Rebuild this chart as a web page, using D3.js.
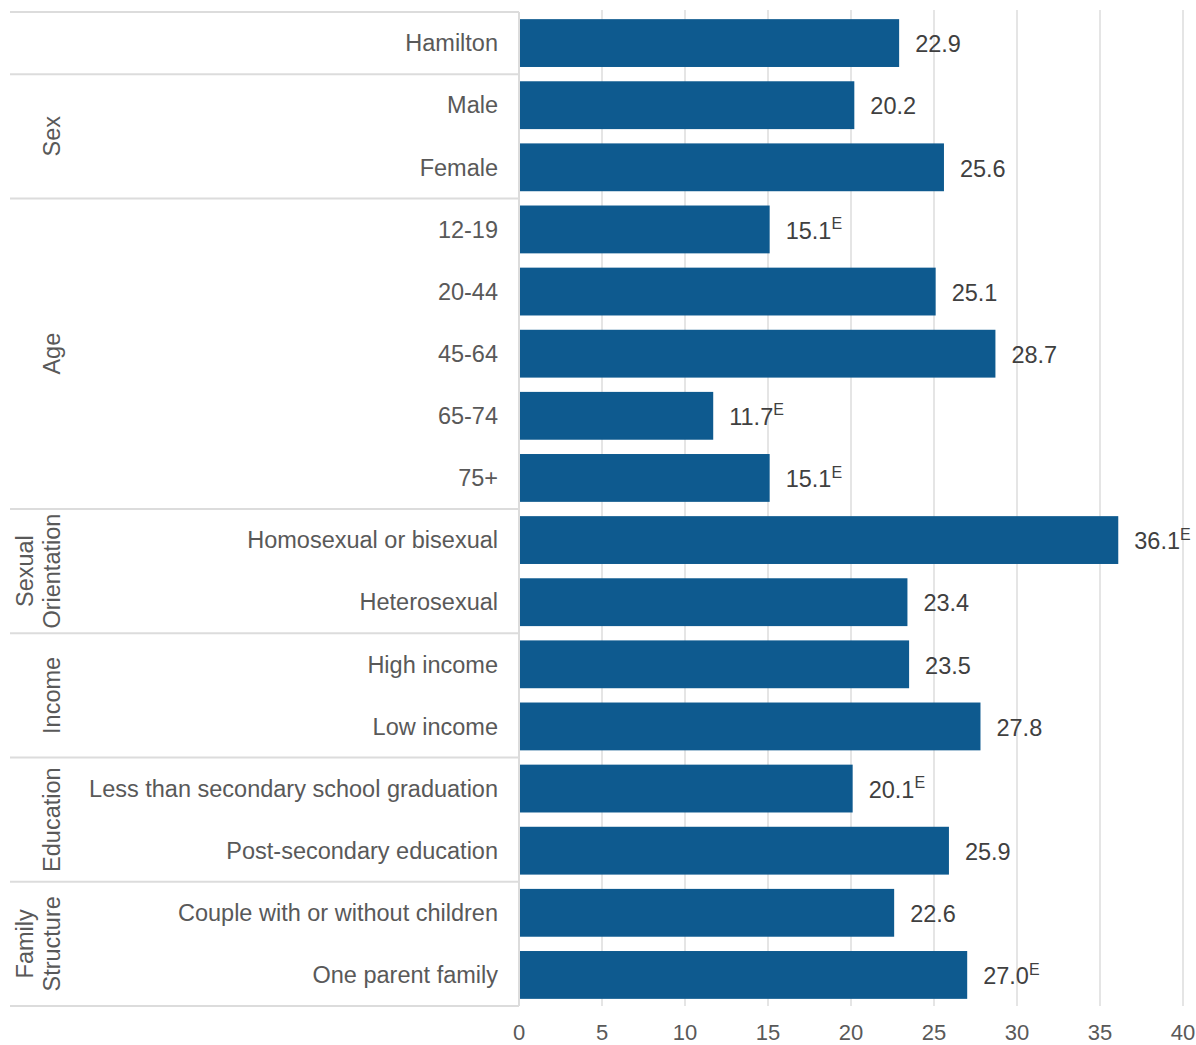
<!DOCTYPE html>
<html><head><meta charset="utf-8">
<script src="https://cdn.jsdelivr.net/npm/d3@7"></script>
<style>
body{margin:0;background:#fff;}
text{font-family:"Liberation Sans",Arial,sans-serif;}
</style></head>
<body><svg id="c" width="1196" height="1045"></svg>
<script>
const categories = ["Hamilton","Male","Female","12-19","20-44","45-64","65-74","75+","Homosexual or bisexual","Heterosexual","High income","Low income","Less than secondary school graduation","Post-secondary education","Couple with or without children","One parent family"];
const values = [22.9,20.2,25.6,15.1,25.1,28.7,11.7,15.1,36.1,23.4,23.5,27.8,20.1,25.9,22.6,27.0];
const flags = ["","","","E","","","E","E","E","","","","E","","","E"];
const groups = [
  {name:[""], start:0, end:0},
  {name:["Sex"], start:1, end:2},
  {name:["Age"], start:3, end:7},
  {name:["Sexual","Orientation"], start:8, end:9},
  {name:["Income"], start:10, end:11},
  {name:["Education"], start:12, end:13},
  {name:["Family","Structure"], start:14, end:15}
];
const ticks = [0,5,10,15,20,25,30,35,40];

const svg = d3.select("#c");
const x0 = 519, x1 = 1183, yTop = 12, yBot = 1006;
const x = d3.scaleLinear().domain([0,40]).range([x0,x1]);
const y = d3.scaleBand().domain(d3.range(categories.length)).range([yTop,yBot]).paddingInner(0.23).paddingOuter(0.115);
const step = y.step();
const FS = 23.5;

// gridlines
svg.append("g").selectAll("line").data(ticks.slice(1)).join("line")
  .attr("x1",d=>x(d)).attr("x2",d=>x(d)).attr("y1",yTop-2).attr("y2",yBot)
  .attr("stroke","#dcdcdc").attr("stroke-width",1.5);

// group separators
const bounds = [0].concat(groups.map(g=>g.end+1));
svg.append("g").selectAll("line").data(bounds).join("line")
  .attr("x1",10).attr("x2",x0).attr("y1",d=>yTop + d*step).attr("y2",d=>yTop + d*step)
  .attr("stroke","#dcdcdc").attr("stroke-width",2);
svg.append("line").attr("x1",x0).attr("x2",x0).attr("y1",yTop).attr("y2",yBot)
  .attr("stroke","#dcdcdc").attr("stroke-width",2);

// bars
svg.append("g").selectAll("rect").data(values).join("rect")
  .attr("x",x(0)+1).attr("y",(d,i)=>y(i)).attr("width",d=>x(d)-x(0)-1).attr("height",y.bandwidth())
  .attr("fill","#0e5a8f");

// category labels
svg.append("g").selectAll("text").data(categories).join("text")
  .attr("x",498).attr("y",(d,i)=>y(i)+y.bandwidth()/2).attr("dy","0.35em")
  .attr("text-anchor","end").attr("font-size",FS).attr("fill","#595959").text(d=>d);

// value labels
const vl = svg.append("g").selectAll("text").data(values).join("text")
  .attr("x",d=>x(d)+16).attr("y",(d,i)=>y(i)+y.bandwidth()/2+1).attr("dy","0.35em")
  .attr("font-size",FS).attr("fill","#404040");
vl.append("tspan").text(d=>d.toFixed(1));
vl.append("tspan").attr("font-size",16).attr("dy","-0.6em").text((d,i)=>flags[i]);

// group labels
groups.forEach(g=>{
  if(!g.name[0]) return;
  const cy = yTop + (g.start + g.end + 1)/2*step;
  const n = g.name.length;
  const t = svg.append("text").attr("transform",`translate(60,${cy}) rotate(-90)`)
    .attr("text-anchor","middle").attr("font-size",FS).attr("fill","#595959");
  g.name.forEach((s,k)=>{
    t.append("tspan").attr("x",0).attr("y", n===1 ? 0 : (k===0 ? -27 : 0)).text(s);
  });
});

// axis tick labels
svg.append("g").selectAll("text").data(ticks).join("text")
  .attr("x",d=>x(d)).attr("y",1040).attr("text-anchor","middle")
  .attr("font-size",22).attr("fill","#595959").text(d=>d);
</script></body></html>
